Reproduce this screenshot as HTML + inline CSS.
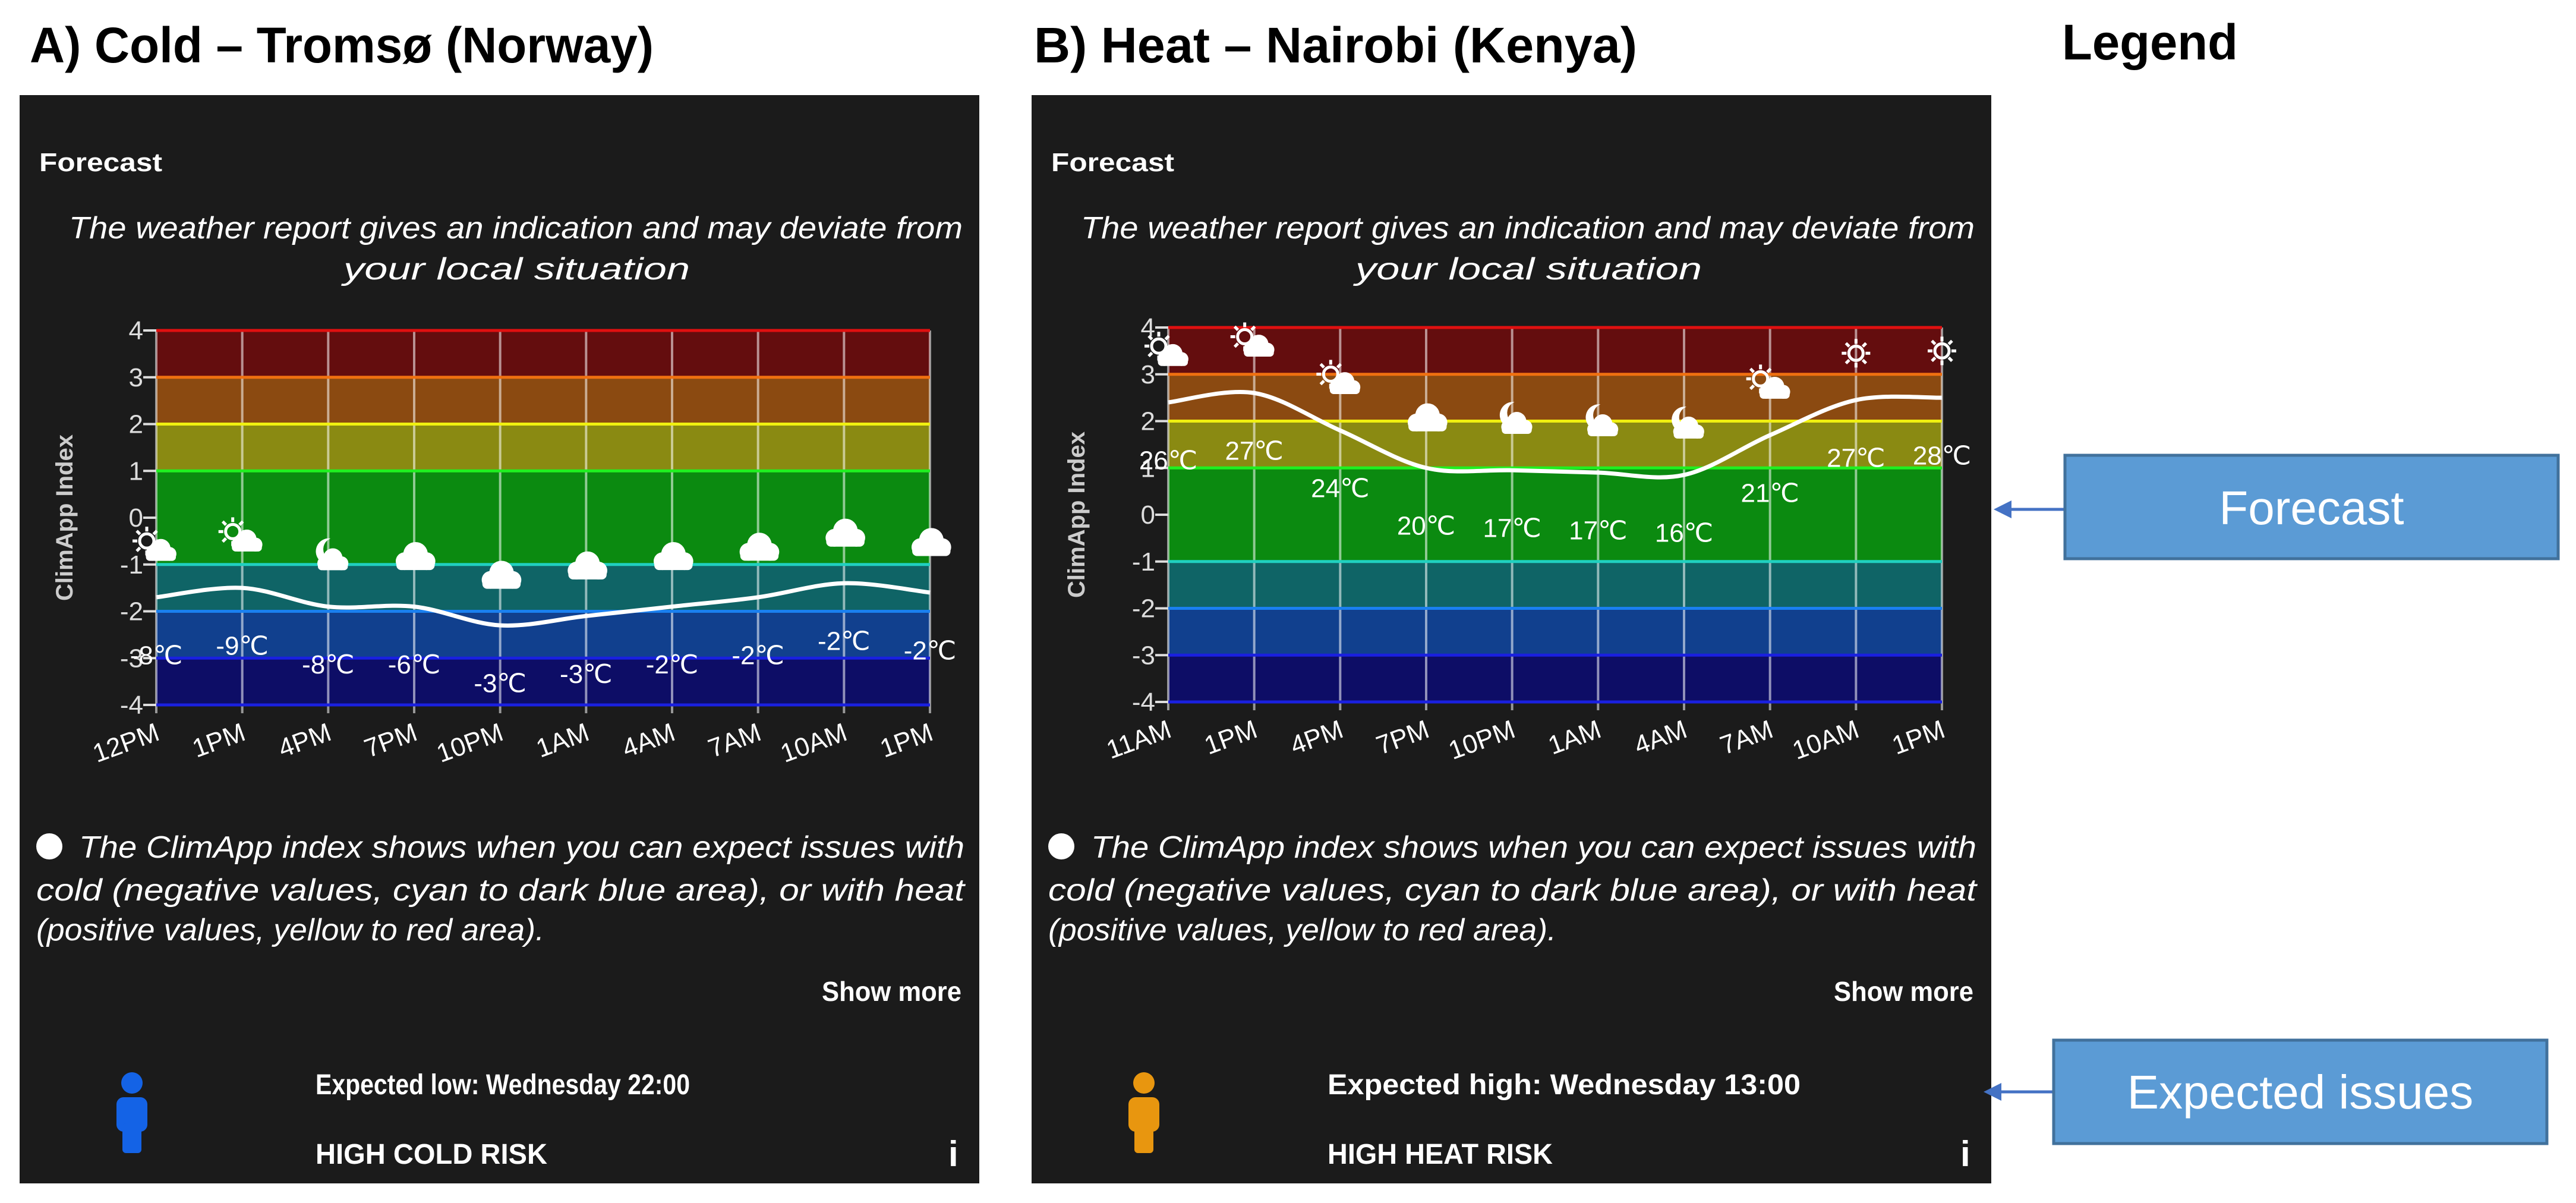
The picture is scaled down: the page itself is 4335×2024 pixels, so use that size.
<!DOCTYPE html>
<html><head><meta charset="utf-8">
<style>
html,body{margin:0;padding:0;background:#fff;}
svg{display:block;font-family:"Liberation Sans",sans-serif;}
</style></head>
<body>
<svg id="root" width="4335" height="2024" viewBox="0 0 4335 2024" xmlns="http://www.w3.org/2000/svg">
<rect width="4335" height="2024" fill="#fff"/>
<text x="50" y="105" font-size="84" font-weight="bold" fill="#000" textLength="1050" lengthAdjust="spacingAndGlyphs">A) Cold – Tromsø (Norway)</text>
<text x="1740" y="105" font-size="84" font-weight="bold" fill="#000" textLength="1015" lengthAdjust="spacingAndGlyphs">B) Heat – Nairobi (Kenya)</text>
<text x="3470" y="100" font-size="84" font-weight="bold" fill="#000" textLength="296" lengthAdjust="spacingAndGlyphs">Legend</text>

<g id="panelA"></g>
<g id="panelB" transform="translate(1703,0)"></g>

<g>
<line x1="3475" y1="857" x2="3370" y2="857" stroke="#4472c4" stroke-width="5"/>
<polygon points="3355,857 3385,842 3385,872" fill="#4472c4"/>
<rect x="3475" y="766" width="830" height="174" fill="#5b9bd5" stroke="#41719c" stroke-width="5"/>
<text x="3890" y="882" font-size="80" fill="#fff" text-anchor="middle">Forecast</text>
</g>
<g>
<line x1="3456" y1="1837" x2="3355" y2="1837" stroke="#4472c4" stroke-width="5"/>
<polygon points="3338,1837 3368,1822 3368,1852" fill="#4472c4"/>
<rect x="3456" y="1750" width="830" height="174" fill="#5b9bd5" stroke="#41719c" stroke-width="5"/>
<text x="3871" y="1865" font-size="80" fill="#fff" text-anchor="middle">Expected issues</text>
</g>
</svg>
<script>
// Panel A (cold, Tromsø)
const catsA = ["12PM","1PM","4PM","7PM","10PM","1AM","4AM","7AM","10AM","1PM"];
const indexA = [-1.7,-1.5,-1.9,-1.9,-2.3,-2.1,-1.9,-1.7,-1.4,-1.6];
const tempsA = ["-8℃","-9℃","-8℃","-6℃","-3℃","-3℃","-2℃","-2℃","-2℃","-2℃"];
const iconsA = ["sunCloud","sunCloud","moonCloud","cloud","cloud","cloud","cloud","cloud","cloud","cloud"];
// Panel B (heat, Nairobi)
const catsB = ["11AM","1PM","4PM","7PM","10PM","1AM","4AM","7AM","10AM","1PM"];
const indexB = [2.4,2.6,1.8,1.0,0.95,0.9,0.85,1.7,2.45,2.5];
const tempsB = ["26℃","27℃","24℃","20℃","17℃","17℃","16℃","21℃","27℃","28℃"];
const iconsB = ["sunCloud","sunCloud","sunCloud","cloud","moonCloud","moonCloud","moonCloud","sunCloud","sun","sun"];
const yTicks = [4,3,2,1,0,-1,-2,-3,-4];

const NS="http://www.w3.org/2000/svg";
function mk(tag,attrs,parent){const e=document.createElementNS(NS,tag);for(const k in attrs)e.setAttribute(k,attrs[k]);if(parent)parent.appendChild(e);return e;}

const bands=[[4,3,"#640d0e"],[3,2,"#8b4a11"],[2,1,"#8a8a12"],[1,-1,"#0b8a10"],[-1,-2,"#0f6466"],[-2,-3,"#11408e"],[-3,-4,"#0d0d66"]];
const lineCols={"4":"#e01010","3":"#f07010","2":"#f0f010","1":"#20f020","-1":"#20d0c0","-2":"#1a80f0","-3":"#1a20e0","-4":"#1a20e0"};

function icon(g,type,cx,cy){
  const ig=mk("g",{},g);
  if(type==="sun"||type==="sunCloud"){
    const sx= type==="sun"?cx:cx-16, sy= type==="sun"?cy:cy-16;
    mk("circle",{cx:sx,cy:sy,r:12,fill:"none",stroke:"#fff","stroke-width":5},ig);
    for(let a=0;a<8;a++){const t=a*Math.PI/4;mk("line",{x1:sx+16*Math.cos(t),y1:sy+16*Math.sin(t),x2:sx+24*Math.cos(t),y2:sy+24*Math.sin(t),stroke:"#fff","stroke-width":5},ig);}
  }
  if(type==="moonCloud"){
    mk("path",{d:`M${cx+4},${cy-36} a22,22 0 1,0 14,36 a16,16 0 1,1 -14,-36z`,fill:"#fff"},ig);
  }
  if(type!=="sun"){
    const s= type==="cloud"?1.15:0.9, ox= type==="cloud"?0:6, oy= type==="cloud"?0:4;
    mk("circle",{cx:cx+ox-14*s,cy:cy+oy+2*s,r:13*s,fill:"#fff"},ig);
    mk("circle",{cx:cx+ox+2*s,cy:cy+oy-8*s,r:18*s,fill:"#fff"},ig);
    mk("circle",{cx:cx+ox+18*s,cy:cy+oy+2*s,r:13*s,fill:"#fff"},ig);
    mk("rect",{x:cx+ox-26*s,y:cy+oy,width:56*s,height:15*s,rx:7*s,fill:"#fff"},ig);
  }
  return ig;
}

function panel(g,cats,idx,temps,icons,txtExp,txtRisk,personCol,yShift){
  mk("rect",{x:33,y:160,width:1615,height:1831,fill:"#1b1b1b"},g);
  const t=(s,a)=>{const e=mk("text",a,g);e.textContent=s;return e;};
  const f=t("Forecast",{x:66,y:288,"font-size":44,"font-weight":"bold",fill:"#fff",textLength:207,lengthAdjust:"spacingAndGlyphs"});
  
  
  t("The weather report gives an indication and may deviate from",{x:116,y:401,"font-size":52,"font-style":"italic",fill:"#fff",textLength:1504,lengthAdjust:"spacingAndGlyphs"});
  t("your local situation",{x:578,y:470,"font-size":52,"font-style":"italic",fill:"#fff",textLength:583,lengthAdjust:"spacingAndGlyphs"});

  const X0=263,X1=1565,Y0=556+yShift,Y1=1186+yShift;
  const xs=i=>X0+(X1-X0)*i/(cats.length-1);
  const ys=v=>Y0+(4-v)*(Y1-Y0)/8;
  const chart=mk("g",{},g);
  
  
  bands.forEach(b=>{const r=mk("rect",{x:X0,y:ys(b[0]),width:X1-X0,height:ys(b[1])-ys(b[0]),fill:b[2]},chart);
    
    });
  cats.forEach((c,i)=>{mk("line",{x1:xs(i),y1:Y0,x2:xs(i),y2:Y1+14,stroke:"rgba(255,255,255,0.55)","stroke-width":4},chart);});
  yTicks.forEach(v=>{
    mk("line",{x1:X0,y1:ys(v),x2:X1,y2:ys(v),stroke:lineCols[String(v)]||"none","stroke-width":v===0?0:5},chart);
    mk("line",{x1:X0-22,y1:ys(v),x2:X0,y2:ys(v),stroke:"#ddd","stroke-width":4},chart);
    const l=mk("text",{x:X0-22,y:ys(v)+15,"font-size":44,fill:"#ddd","text-anchor":"end"},chart);l.textContent=String(v);
    
    
  });
  const yt=mk("text",{x:0,y:0,"font-size":40,"font-weight":"bold",fill:"#ccc","text-anchor":"middle",transform:`translate(122,${(Y0+Y1)/2}) rotate(-90)`},chart);
  yt.textContent="ClimApp Index";
  
  
  // smooth line (catmull-rom)
  const pts=idx.map((v,i)=>[xs(i),ys(v)]);
  let d=`M${pts[0][0]},${pts[0][1]}`;
  for(let i=0;i<pts.length-1;i++){
    const p0=pts[Math.max(0,i-1)],p1=pts[i],p2=pts[i+1],p3=pts[Math.min(pts.length-1,i+2)];
    const c1=[p1[0]+(p2[0]-p0[0])/6,p1[1]+(p2[1]-p0[1])/6];
    const c2=[p2[0]-(p3[0]-p1[0])/6,p2[1]-(p3[1]-p1[1])/6];
    d+=` C${c1[0]},${c1[1]} ${c2[0]},${c2[1]} ${p2[0]},${p2[1]}`;
  }
  const p=mk("path",{d:d,fill:"none",stroke:"#fff","stroke-width":7},chart);
  
  
  idx.forEach((v,i)=>{
    const ic=icon(chart,icons[i],xs(i),ys(v+1.0));
    
    
    const tl=mk("text",{x:xs(i),y:ys(v-1.25)+14,"font-size":44,fill:"#fff","text-anchor":"middle"},chart);
    tl.textContent=temps[i];
    
    
    const xl=mk("text",{x:0,y:0,"font-size":44,fill:"#fff","text-anchor":"end",transform:`translate(${xs(i)+8},${Y1+58}) rotate(-20)`},chart);
    xl.textContent=cats[i];
    
    
  });

  const bul=mk("circle",{cx:83,cy:1424,r:22,fill:"#fff"},g);
  
  
  t("The ClimApp index shows when you can expect issues with",{x:133,y:1443,"font-size":52,"font-style":"italic",fill:"#fff",textLength:1490,lengthAdjust:"spacingAndGlyphs"});
  t("cold (negative values, cyan to dark blue area), or with heat",{x:61,y:1515,"font-size":52,"font-style":"italic",fill:"#fff",textLength:1562,lengthAdjust:"spacingAndGlyphs"});
  t("(positive values, yellow to red area).",{x:61,y:1582,"font-size":52,"font-style":"italic",fill:"#fff",textLength:855,lengthAdjust:"spacingAndGlyphs"});
  const sm=t("Show more",{x:1383,y:1684,"font-size":46,"font-weight":"bold",fill:"#fff",textLength:235,lengthAdjust:"spacingAndGlyphs"});
  
  
  const pg=mk("g",{fill:personCol},g);
  
  
  mk("circle",{cx:222,cy:1822,r:18},pg);
  mk("rect",{x:196,y:1846,width:52,height:58,rx:12},pg);
  mk("rect",{x:206,y:1890,width:32,height:50,rx:6},pg);
  const e1=t(txtExp[0],{x:531,y:1841,"font-size":48,"font-weight":"bold",fill:"#fff",textLength:txtExp[1],lengthAdjust:"spacingAndGlyphs"});
  
  
  const e2=t(txtRisk[0],{x:531,y:1958,"font-size":48,"font-weight":"bold",fill:"#fff",textLength:txtRisk[1],lengthAdjust:"spacingAndGlyphs"});
  
  
  const ib=t("i",{x:1596,y:1962,"font-size":60,"font-weight":"bold",fill:"#fff"});
  
  
}
panel(document.getElementById("panelA"),catsA,indexA,tempsA,iconsA,["Expected low: Wednesday 22:00",630],["HIGH COLD RISK",390],"#1463e6",0);
panel(document.getElementById("panelB"),catsB,indexB,tempsB,iconsB,["Expected high: Wednesday 13:00",796],["HIGH HEAT RISK",379],"#e8960f",-5);
</script>
</body></html>
